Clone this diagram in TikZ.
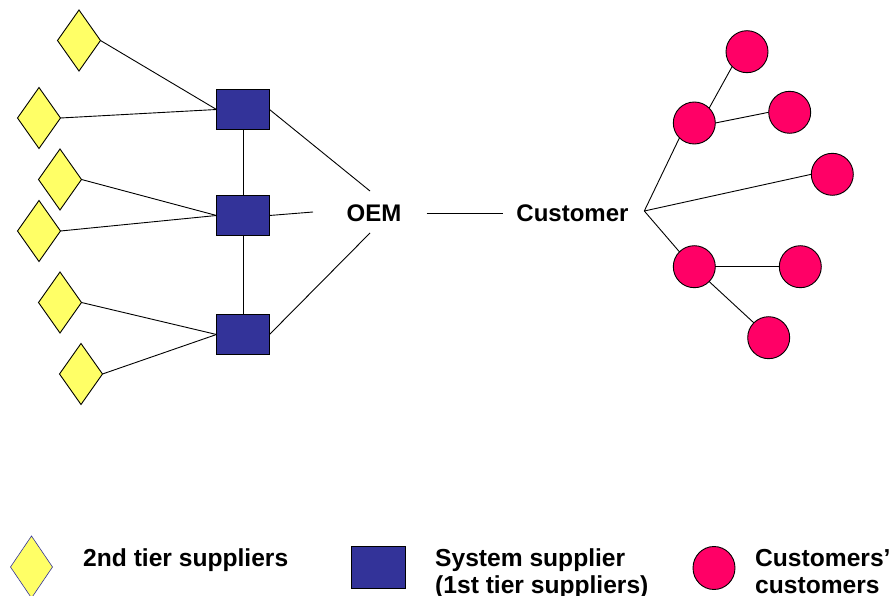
\documentclass[tikz,border=0pt]{standalone}
\usepackage{fontspec}
\setmainfont{Liberation Sans}
\usetikzlibrary{shapes.geometric}

\definecolor{tieryellow}{RGB}{255,255,102}
\definecolor{sysnavy}{RGB}{51,51,153}
\definecolor{custpink}{RGB}{255,0,102}

\tikzset{
  supplier/.style={diamond, draw=black, line width=0.9pt, fill=tieryellow,
    inner sep=0pt, outer sep=0pt, minimum width=43pt, minimum height=61pt},
  sysbox/.style={rectangle, draw=black, line width=0.9pt, fill=sysnavy,
    inner sep=0pt, outer sep=0pt, minimum width=53pt, minimum height=40pt},
  endcust/.style={circle, draw=black, line width=0.9pt, fill=custpink,
    inner sep=0pt, outer sep=0pt, minimum size=42pt},
  link/.style={draw=black, line width=0.9pt},
  label/.style={font=\fontsize{24}{27}\selectfont\bfseries, inner sep=0pt},
  legendtext/.style={font=\fontsize{24.6}{27}\selectfont\bfseries, inner sep=0pt,
    align=left, anchor=base west}
}

\begin{document}
\begin{tikzpicture}[x=1pt,y=-1pt]
\useasboundingbox (0,0) rectangle (895,596);

% second tier suppliers
\node[supplier] (d1) at (79,40.5) {};
\node[supplier] (d2) at (39,118) {};
\node[supplier] (d3) at (60,179.5) {};
\node[supplier] (d4) at (39,231) {};
\node[supplier] (d5) at (60,302.5) {};
\node[supplier] (d6) at (81,374) {};

% system suppliers
\node[sysbox] (s1) at (243,109.5) {};
\node[sysbox] (s2) at (243,215.5) {};
\node[sysbox] (s3) at (243,334.5) {};

% OEM and customer
\node[label, anchor=base] (oem) at (374,221.5) {OEM};
\node[label, anchor=base] (customer) at (572.5,221.5) {Customer};
\coordinate (oemT) at (370,191);
\coordinate (oemL) at (313,212);
\coordinate (oemB) at (370,233);
\coordinate (cust) at (644.3,211);

% customers' customers
\node[endcust] (c1) at (747,51.7) {};
\node[endcust] (c2) at (694.3,123) {};
\node[endcust] (c3) at (789.7,112.3) {};
\node[endcust] (c4) at (832.3,174.3) {};
\node[endcust] (c5) at (694.3,266.7) {};
\node[endcust] (c6) at (800.3,266.7) {};
\node[endcust] (c7) at (768.7,337.7) {};

% supplier links
\draw[link] (d1.east) -- (s1.west);
\draw[link] (d2.east) -- (s1.west);
\draw[link] (d3.east) -- (s2.west);
\draw[link] (d4.east) -- (s2.west);
\draw[link] (d5.east) -- (s3.west);
\draw[link] (d6.east) -- (s3.west);
\draw[link] (s1.south) -- (s2.north);
\draw[link] (s2.south) -- (s3.north);

% links to the OEM
\draw[link] (s1.east) -- (oemT);
\draw[link] (s2.east) -- (oemL);
\draw[link] (s3.east) -- (oemB);
\draw[link, shorten <=25pt, shorten >=13pt] (oem.east) -- (customer.west);

% customer tree
\draw[link] (cust) -- (c2.225);
\draw[link] (cust) -- (c4.west);
\draw[link] (cust) -- (c5.135);
\draw[link] (c2.45) -- (c1.225);
\draw[link] (c2.east) -- (c3.west);
\draw[link] (c5.east) -- (c6.west);
\draw[link] (c5.-45) -- (c7.135);

% legend (two-line labels sit on the baseline of their last line)
\node[supplier, draw=sysnavy, line width=0.6pt, minimum width=42pt, minimum height=62pt] (lgd) at (31.5,567) {};
\node[legendtext] (lgdtext) at (83,566) {2nd tier suppliers};
\node[sysbox, minimum width=54pt, minimum height=42pt] (lgs) at (378,567) {};
\node[legendtext] (lgstext) at (435,593) {System supplier\\(1st tier suppliers)};
\node[ellipse, draw=black, line width=0.9pt, fill=custpink, inner sep=0pt,
  minimum width=42pt, minimum height=43pt] (lgc) at (714,568) {};
\node[legendtext] (lgctext) at (755,593) {Customers’\\customers};
\end{tikzpicture}
\end{document}
